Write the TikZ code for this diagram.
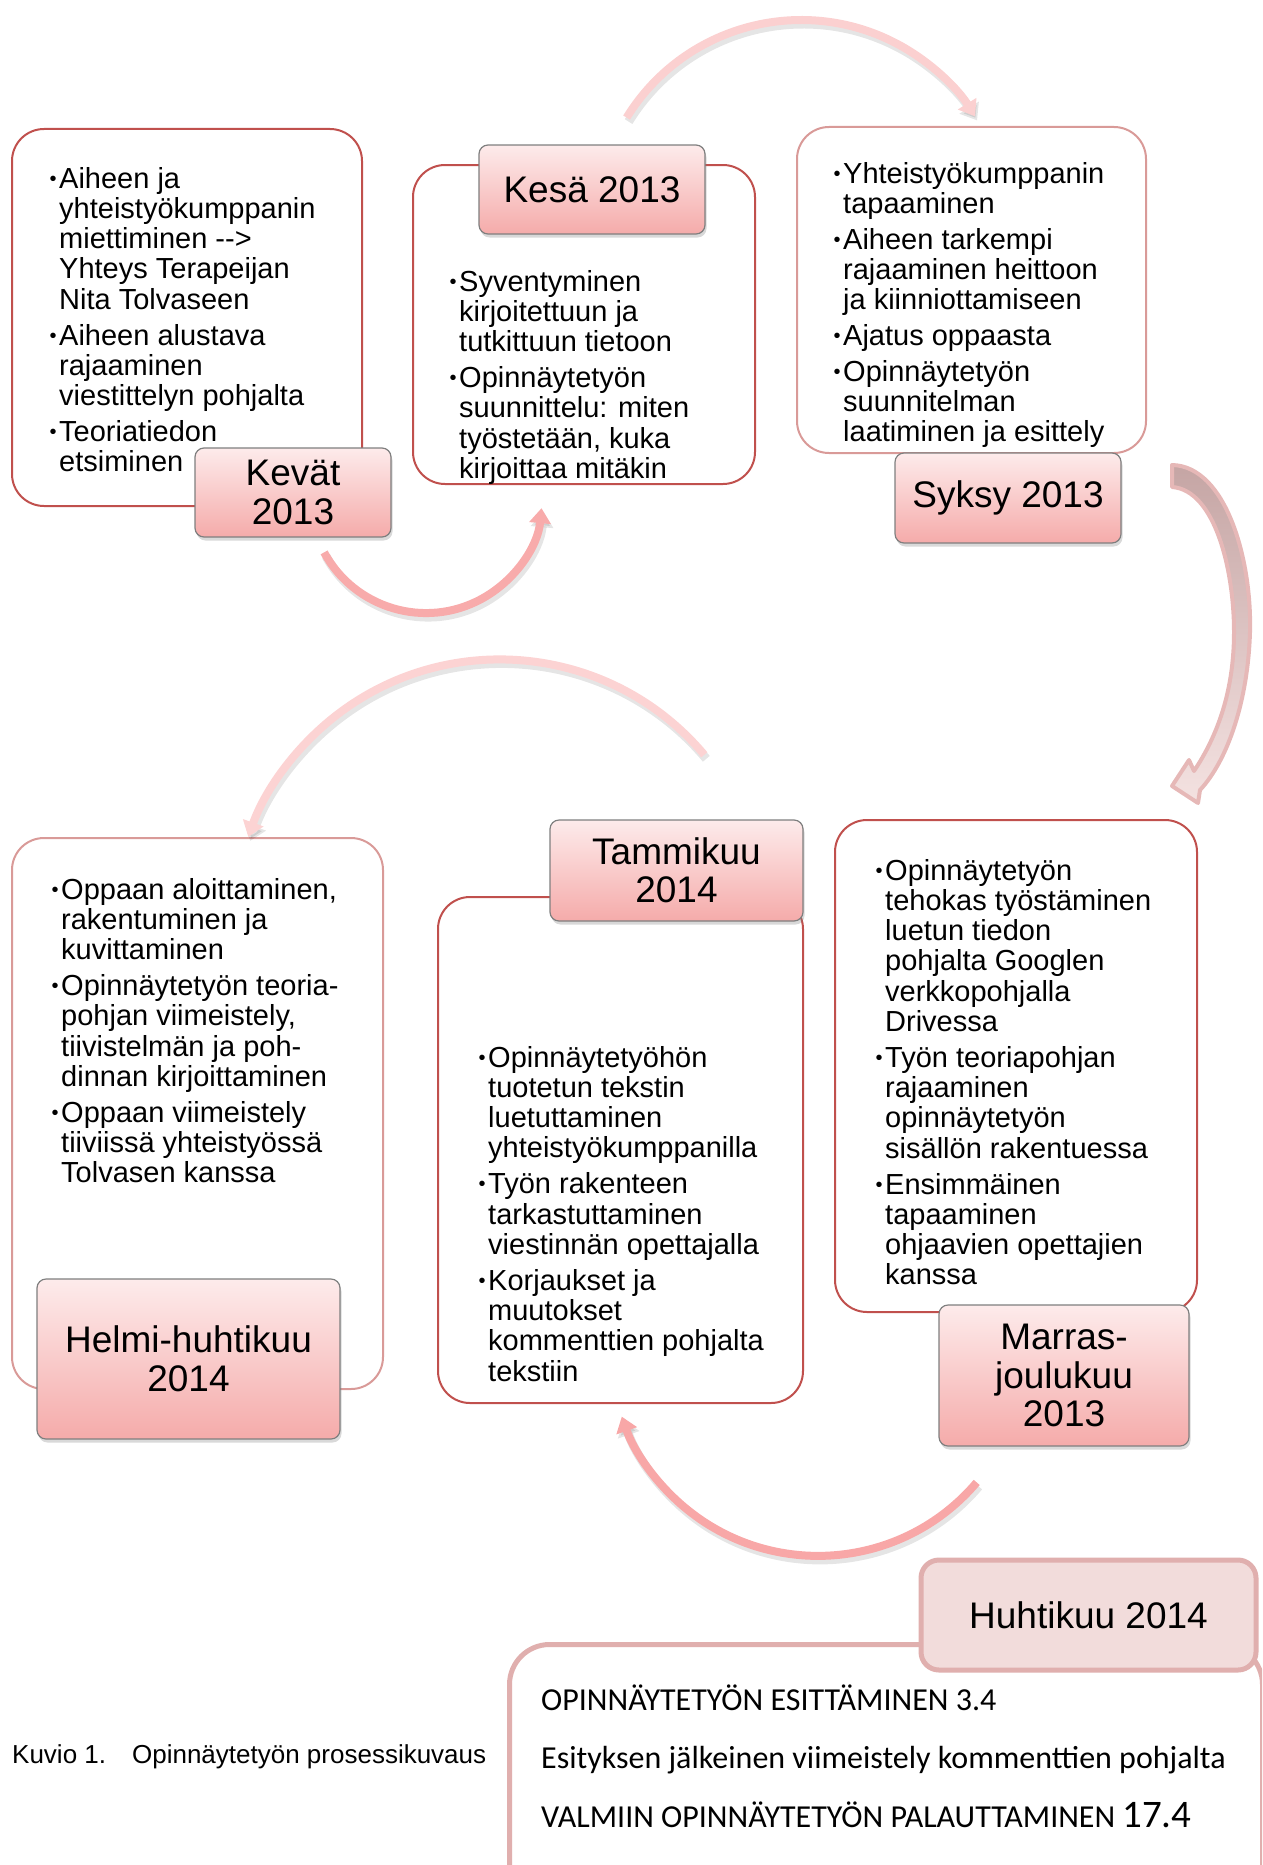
\documentclass[tikz,border=0pt]{standalone}
\usepackage{fontspec}
\setmainfont{Liberation Sans}
\newfontfamily\calib{Carlito}
\usetikzlibrary{arrows.meta,shadows}
\definecolor{boxred}{HTML}{C0504D}
\definecolor{boxpink}{HTML}{D99A98}
\definecolor{labtop}{HTML}{FDEBEB}
\definecolor{labbot}{HTML}{F5ABAA}
\definecolor{labline}{HTML}{7F7F7F}
\definecolor{arcA}{HTML}{F8ABAB}
\definecolor{arcB}{HTML}{FBD0D0}
\definecolor{arcC}{HTML}{FCD3D3}
\definecolor{arcD}{HTML}{F8A7A7}
\definecolor{blkfillA}{HTML}{C5A5A4}
\definecolor{blkfillB}{HTML}{F4E2E1}
\definecolor{blkline}{HTML}{E6B8B7}
\definecolor{huhfill}{HTML}{F2DCDB}
\definecolor{huhline}{HTML}{E0AFAE}
\newcommand\bulsym{\raisebox{3pt}{\fontsize{20}{20}\selectfont •}}
\newcommand\bp[1]{\par\noindent\llap{\bulsym\hspace{2.5pt}}#1\par}
\newcommand\btext[1]{\parbox[t]{340pt}{\raggedright\fontsize{29}{30.3}\selectfont\parskip=5.5pt #1}}
\begin{document}
\begin{tikzpicture}[x=1pt,y=1pt,
  bigred/.style={draw=boxred, line width=2pt, rounded corners=32pt, fill=white, inner sep=0pt},
  bigpink/.style={draw=boxpink, line width=2pt, rounded corners=32pt, fill=white, inner sep=0pt},
  lab/.style={draw=labline, line width=1.2pt, rounded corners=9pt, top color=labtop, bottom color=labbot,
    inner sep=0pt, align=center, font=\fontsize{37}{38.5}\selectfont,
    drop shadow={shadow xshift=1.5pt, shadow yshift=-3.5pt, opacity=0.3}},
  txt/.style={anchor=base west, inner sep=0pt},
  arcarrow/.style={line width=8pt, -{Triangle[width=21pt,length=15pt]}},
  arcshadow/.style={line width=9pt, black, opacity=0.10, -{Triangle[width=22pt,length=15pt]},
    transform canvas={shift={(2pt,-4pt)}}},
  bottomtxt/.style={anchor=base west, inner sep=0pt, font=\calib\fontsize{32}{32}\selectfont}
]
\useasboundingbox (0,0) rectangle (1262,-1865);
\clip (0,0) rectangle (1262,-1865);

% big boxes
\node[bigred, minimum width=350pt, minimum height=377pt] (kevb) at (187,-317.5) {};
\node[bigred, minimum width=342pt, minimum height=319pt] (kesb) at (584,-324.5) {};
\node[bigpink, minimum width=349pt, minimum height=326pt] (syksb) at (971.5,-290) {};
\node[bigpink, minimum width=371pt, minimum height=551pt] (helb) at (197.5,-1113.5) {};
\node[bigred, minimum width=365pt, minimum height=506pt] (tamb) at (620.5,-1150) {};
\node[bigred, minimum width=362pt, minimum height=492pt] (marb) at (1016,-1066) {};

% texts
\node[txt] (kevt) at (59,-188) {\btext{%
\bp{Aiheen ja\\yhteistyökumppanin\\miettiminen {-}{-}>\\Yhteys Terapeijan\\Nita Tolvaseen}
\bp{Aiheen alustava\\rajaaminen\\viestittelyn pohjalta}
\bp{Teoriatiedon\\etsiminen}}};
\node[txt] (kest) at (459,-291) {\btext{%
\bp{Syventyminen\\kirjoitettuun ja\\tutkittuun tietoon}
\bp{Opinnäytetyön\\suunnittelu: miten\\työstetään, kuka\\kirjoittaa mitäkin}}};
\node[txt] (syksyt) at (843,-183) {\btext{%
\bp{Yhteistyökumppanin\\tapaaminen}
\bp{Aiheen tarkempi\\rajaaminen heittoon\\ja kiinniottamiseen}
\bp{Ajatus oppaasta}
\bp{Opinnäytetyön\\suunnitelman\\laatiminen ja esittely}}};
\node[txt] (helt) at (61,-899) {\btext{%
\bp{Oppaan aloittaminen,\\rakentuminen ja\\kuvittaminen}
\bp{Opinnäytetyön teoria-\\pohjan viimeistely,\\tiivistelmän ja poh-\\dinnan kirjoittaminen}
\bp{Oppaan viimeistely\\tiiviissä yhteistyössä\\Tolvasen kanssa}}};
\node[txt] (tamt) at (488,-1067) {\btext{%
\bp{Opinnäytetyöhön\\tuotetun tekstin\\luetuttaminen\\yhteistyökumppanilla}
\bp{Työn rakenteen\\tarkastuttaminen\\viestinnän opettajalla}
\bp{Korjaukset ja\\muutokset\\kommenttien pohjalta\\tekstiin}}};
\node[txt] (mart) at (885,-880) {\btext{%
\bp{Opinnäytetyön\\tehokas työstäminen\\luetun tiedon\\pohjalta Googlen\\verkkopohjalla\\Drivessa}
\bp{Työn teoriapohjan\\rajaaminen\\opinnäytetyön\\sisällön rakentuessa}
\bp{Ensimmäinen\\tapaaminen\\ohjaavien opettajien\\kanssa}}};

% labels
\node[lab, minimum width=196pt, minimum height=89pt] (kevl) at (293,-492.5) {Kevät\\2013};
\node[lab, minimum width=226pt, minimum height=89pt] (kesl) at (592,-189.5) {Kesä 2013};
\node[lab, minimum width=226pt, minimum height=90pt] (syksl) at (1008,-498) {Syksy 2013};
\node[lab, minimum width=303pt, minimum height=160pt] (hell) at (188.5,-1359) {Helmi-huhtikuu\\2014};
\node[lab, minimum width=253pt, minimum height=101pt] (taml) at (676.5,-870.5) {Tammikuu\\2014};
\node[lab, minimum width=250pt, minimum height=141pt] (marl) at (1064,-1375.5) {Marras-\\joulukuu\\2013};

% curved arrows
\coordinate (a1s) at (324.1,-552.4);
\coordinate (a2s) at (626.6,-117.6);
\coordinate (a3s) at (704.3,-754.8);
\coordinate (a4s) at (976.7,-1482.4);
\draw[arcshadow] (a1s) arc[start angle=208.5, end angle=354.5, radius=116pt];
\draw[arcarrow, arcA] (a1s) arc[start angle=208.5, end angle=354.5, radius=116pt];
\draw[arcshadow] (a2s) arc[start angle=148.4, end angle=32, radius=205pt];
\draw[arcarrow, arcB] (a2s) arc[start angle=148.4, end angle=32, radius=205pt];
\draw[arcshadow] (a3s) arc[start angle=40, end angle=160.4, radius=267pt];
\draw[arcarrow, arcC] (a3s) arc[start angle=40, end angle=160.4, radius=267pt];
\draw[arcshadow] (a4s) arc[start angle=-40.3, end angle=-160.7, radius=208pt];
\draw[arcarrow, arcD] (a4s) arc[start angle=-40.3, end angle=-160.7, radius=208pt];

% block arrow right
\draw[blkline, line width=4pt, line join=round, top color=blkfillA, bottom color=blkfillB]
 (1172,-465) .. controls (1226,-466) and (1252,-560) .. (1250,-632)
 .. controls (1248,-700) and (1228,-760) .. (1200,-790)
 -- (1198,-803) -- (1172,-786) -- (1189,-760) -- (1194,-771)
 .. controls (1218,-735) and (1234,-690) .. (1234,-632)
 .. controls (1234,-570) and (1215,-490) .. (1172,-487) -- cycle;

% final box
\node[draw=huhline, line width=5pt, rounded corners=40pt, fill=white, inner sep=0pt,
  minimum width=753pt, minimum height=300pt, anchor=north west] (finb) at (507,-1642) {};
\node[draw=huhline, line width=5pt, rounded corners=18pt, fill=huhfill, inner sep=0pt,
  minimum width=335pt, minimum height=110pt, font=\fontsize{37}{38.5}\selectfont] (huhl) at (1088.5,-1615) {Huhtikuu 2014};
\node[bottomtxt] (f1) at (541,-1710) {OPINNÄYTETYÖN ESITTÄMINEN 3.4};
\node[bottomtxt] (f2) at (541,-1768) {Esityksen jälkeinen viimeistely kommenttien pohjalta};
\node[bottomtxt] (f3) at (541,-1827) {VALMIIN OPINNÄYTETYÖN PALAUTTAMINEN {\fontsize{39}{39}\selectfont 17.4}};

% caption
\node[anchor=base west, inner sep=0pt, font=\fontsize{26}{26}\selectfont] (cap) at (12,-1763) {Kuvio 1.\hspace{26pt}Opinnäytetyön prosessikuvaus};
\end{tikzpicture}
\end{document}
